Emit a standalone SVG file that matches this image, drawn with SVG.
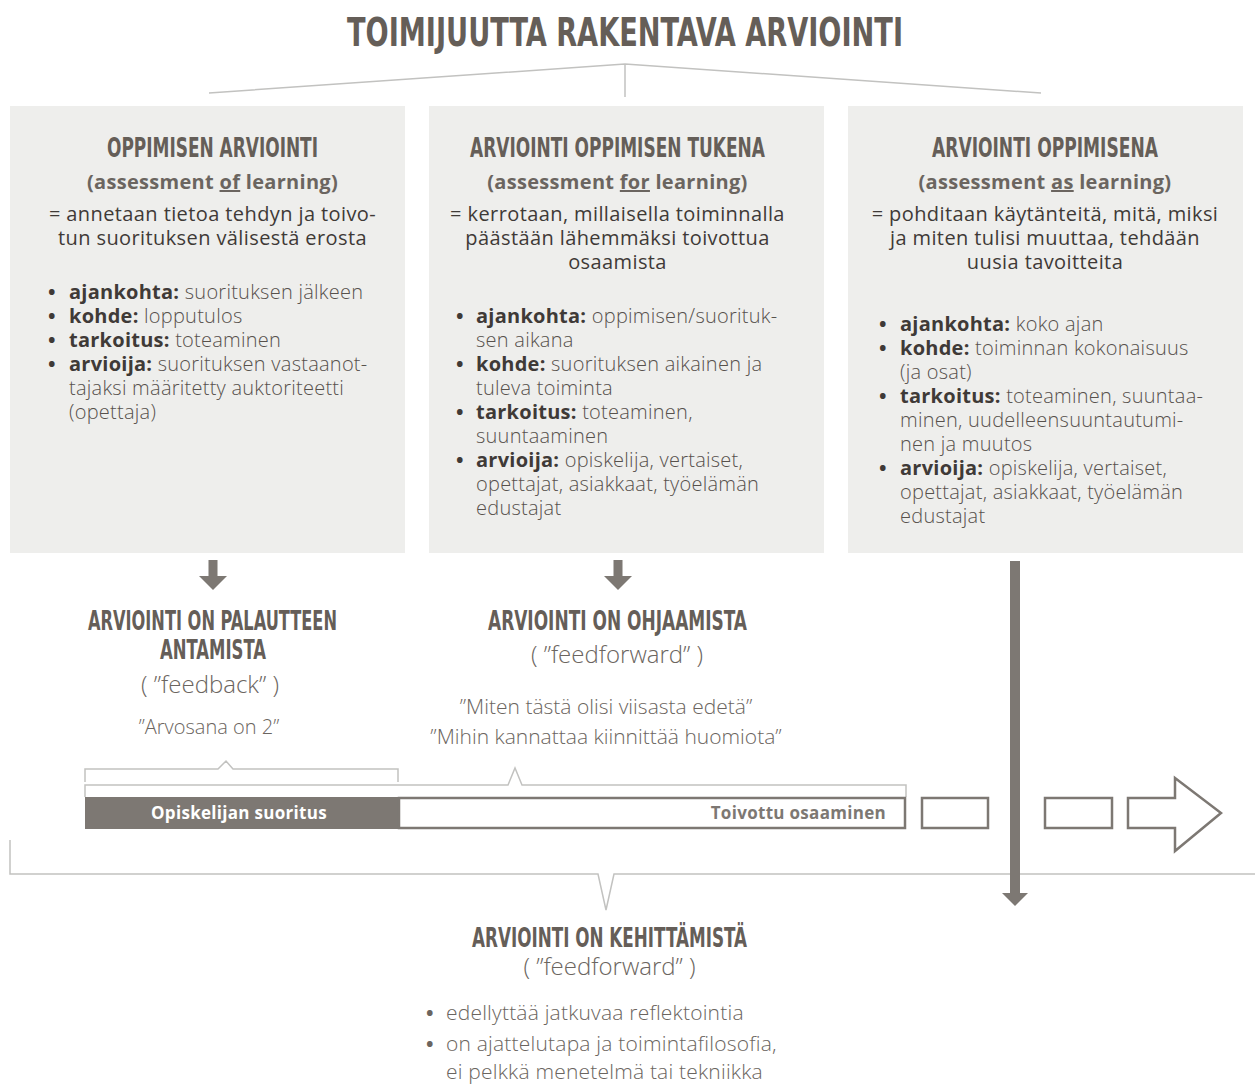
<svg xmlns="http://www.w3.org/2000/svg" width="1255" height="1084" viewBox="0 0 1255 1084">
  <style>
    .head { font-family: "Liberation Sans Narrow", "DejaVu Sans Condensed", "Liberation Sans", sans-serif; font-weight: 700; fill: #655e58; text-anchor: middle; }
    .sub { font-family: "Open Sans", "Noto Sans", sans-serif; font-size: 20px; font-weight: 700; fill: #6b6560; text-anchor: middle; letter-spacing: 0.3px; }
    .def { font-family: "Open Sans", "Noto Sans", sans-serif; font-size: 20px; fill: #3f3a37; text-anchor: middle; letter-spacing: 0.4px; }
    .li { font-family: "Open Sans", "Noto Sans", sans-serif; font-size: 20px; font-weight: 300; fill: #57514c; letter-spacing: 0.25px; }
    .li .k { font-weight: 700; fill: #3f3a37; }
    .dot { font-family: "Open Sans", "Noto Sans", sans-serif; font-size: 20px; font-weight: 700; fill: #3f3a37; }
    .note { font-family: "Open Sans", "Noto Sans", sans-serif; font-weight: 300; fill: #6b6560; text-anchor: middle; }
    .note.start { text-anchor: start; letter-spacing: 0.2px; }
    .note.bullet { font-weight: 700; }
    .box { fill: #eeeeec; }
    .thin { fill: none; stroke: #c2c2c0; stroke-width: 1.5; }
    .solid { fill: #7d7873; }
    .frame { fill: #ffffff; stroke: #7d7873; stroke-width: 2.5; }
    .bar { font-family: "Open Sans", "Noto Sans", sans-serif; font-size: 17px; font-weight: 700; letter-spacing: 0.3px; }
  </style>

  <!-- title -->
  <g id="title">
    <text class="head" x="625" y="46" font-size="39" textLength="556" lengthAdjust="spacingAndGlyphs">TOIMIJUUTTA RAKENTAVA ARVIOINTI</text>
  </g>

  <!-- connectors -->
  <g id="connectors">
    <!-- tree under the title -->
    <polyline class="thin" points="209,93 625,64 1041,93"/>
    <line class="thin" x1="625" y1="64" x2="625" y2="97"/>

    <!-- down arrows under the first two boxes -->
    <rect class="solid" x="208.5" y="560" width="9" height="17"/>
    <polygon class="solid" points="199,576 227,576 213,590"/>
    <rect class="solid" x="613.5" y="560" width="9" height="17"/>
    <polygon class="solid" points="604,576 632,576 618,590"/>

    <!-- braces over the bar -->
    <polyline class="thin" points="85,782 85,769 218,769 226,761 233,769 398,769 398,782"/>
    <polyline class="thin" points="85,797 85,785 508,785 515,768 522,785 906,785 906,797"/>

    <!-- long brace under everything -->
    <polyline class="thin" stroke-width="2" points="10,840 10,874 598,874 606,910 614,874 1255,874"/>

    <!-- long arrow from the third box -->
    <rect class="solid" x="1010" y="561" width="10" height="334"/>
    <polygon class="solid" points="1002,893 1028,893 1015,906"/>
  </g>

  <!-- box 1 -->
  <g id="node-of">
    <rect class="box" x="10" y="106" width="395" height="447"/>
    <text class="head" x="212.5" y="157" font-size="27" textLength="211" lengthAdjust="spacingAndGlyphs">OPPIMISEN ARVIOINTI</text>
    <text class="sub" x="212.5" y="189">(assessment <tspan text-decoration="underline">of</tspan> learning)</text>
    <text class="def" x="212.5" y="221">= annetaan tietoa tehdyn ja toivo-</text>
    <text class="def" x="212.5" y="245">tun suorituksen välisestä erosta</text>
    <text class="dot" x="48" y="299">•</text>
    <text class="li" x="69" y="299"><tspan class="k">ajankohta:</tspan> suorituksen jälkeen</text>
    <text class="dot" x="48" y="323">•</text>
    <text class="li" x="69" y="323"><tspan class="k">kohde:</tspan> lopputulos</text>
    <text class="dot" x="48" y="347">•</text>
    <text class="li" x="69" y="347"><tspan class="k">tarkoitus:</tspan> toteaminen</text>
    <text class="dot" x="48" y="371">•</text>
    <text class="li" x="69" y="371"><tspan class="k">arvioija:</tspan> suorituksen vastaanot-</text>
    <text class="li" x="69" y="395">tajaksi määritetty auktoriteetti</text>
    <text class="li" x="69" y="419">(opettaja)</text>
  </g>

  <!-- box 2 -->
  <g id="node-for">
    <rect class="box" x="429" y="106" width="395" height="447"/>
    <text class="head" x="617.5" y="157" font-size="27" textLength="295" lengthAdjust="spacingAndGlyphs">ARVIOINTI OPPIMISEN TUKENA</text>
    <text class="sub" x="617.5" y="189">(assessment <tspan text-decoration="underline">for</tspan> learning)</text>
    <text class="def" x="617.5" y="221">= kerrotaan, millaisella toiminnalla</text>
    <text class="def" x="617.5" y="245">päästään lähemmäksi toivottua</text>
    <text class="def" x="617.5" y="269">osaamista</text>
    <text class="dot" x="456" y="323">•</text>
    <text class="li" x="476" y="323"><tspan class="k">ajankohta:</tspan> oppimisen/suorituk-</text>
    <text class="li" x="476" y="347">sen aikana</text>
    <text class="dot" x="456" y="371">•</text>
    <text class="li" x="476" y="371"><tspan class="k">kohde:</tspan> suorituksen aikainen ja</text>
    <text class="li" x="476" y="395">tuleva toiminta</text>
    <text class="dot" x="456" y="419">•</text>
    <text class="li" x="476" y="419"><tspan class="k">tarkoitus:</tspan> toteaminen,</text>
    <text class="li" x="476" y="443">suuntaaminen</text>
    <text class="dot" x="456" y="467">•</text>
    <text class="li" x="476" y="467"><tspan class="k">arvioija:</tspan> opiskelija, vertaiset,</text>
    <text class="li" x="476" y="491">opettajat, asiakkaat, työelämän</text>
    <text class="li" x="476" y="515">edustajat</text>
  </g>

  <!-- box 3 -->
  <g id="node-as">
    <rect class="box" x="848" y="106" width="395" height="447"/>
    <text class="head" x="1045" y="157" font-size="27" textLength="226" lengthAdjust="spacingAndGlyphs">ARVIOINTI OPPIMISENA</text>
    <text class="sub" x="1045" y="189">(assessment <tspan text-decoration="underline">as</tspan> learning)</text>
    <text class="def" x="1045" y="221">= pohditaan käytänteitä, mitä, miksi</text>
    <text class="def" x="1045" y="245">ja miten tulisi muuttaa, tehdään</text>
    <text class="def" x="1045" y="269">uusia tavoitteita</text>
    <text class="dot" x="879" y="331">•</text>
    <text class="li" x="900" y="331"><tspan class="k">ajankohta:</tspan> koko ajan</text>
    <text class="dot" x="879" y="355">•</text>
    <text class="li" x="900" y="355"><tspan class="k">kohde:</tspan> toiminnan kokonaisuus</text>
    <text class="li" x="900" y="379">(ja osat)</text>
    <text class="dot" x="879" y="403">•</text>
    <text class="li" x="900" y="403"><tspan class="k">tarkoitus:</tspan> toteaminen, suuntaa-</text>
    <text class="li" x="900" y="427">minen, uudelleensuuntautumi-</text>
    <text class="li" x="900" y="451">nen ja muutos</text>
    <text class="dot" x="879" y="475">•</text>
    <text class="li" x="900" y="475"><tspan class="k">arvioija:</tspan> opiskelija, vertaiset,</text>
    <text class="li" x="900" y="499">opettajat, asiakkaat, työelämän</text>
    <text class="li" x="900" y="523">edustajat</text>
  </g>

  <!-- feedback -->
  <g id="node-feedback">
    <text class="head" x="212.5" y="630" font-size="27" textLength="249" lengthAdjust="spacingAndGlyphs">ARVIOINTI ON PALAUTTEEN</text>
    <text class="head" x="213" y="659" font-size="27" textLength="106" lengthAdjust="spacingAndGlyphs">ANTAMISTA</text>
    <text class="note" x="210" y="693" font-size="24">( ”feedback” )</text>
    <text class="note" x="209" y="734" font-size="20">”Arvosana on 2”</text>
  </g>

  <!-- guidance -->
  <g id="node-guidance">
    <text class="head" x="617.5" y="630" font-size="27" textLength="259" lengthAdjust="spacingAndGlyphs">ARVIOINTI ON OHJAAMISTA</text>
    <text class="note" x="617" y="663" font-size="24">( ”feedforward” )</text>
    <text class="note" x="606" y="714" font-size="21">”Miten tästä olisi viisasta edetä”</text>
    <text class="note" x="606" y="744" font-size="21">”Mihin kannattaa kiinnittää huomiota”</text>
  </g>

  <!-- timeline bar -->
  <g id="node-bar">
    <rect class="solid" x="85" y="797" width="313" height="32"/>
    <text class="bar" x="239" y="819" fill="#ffffff" text-anchor="middle">Opiskelijan suoritus</text>
    <rect class="frame" x="399" y="798" width="506" height="30"/>
    <text class="bar" x="886" y="819" fill="#7d7873" text-anchor="end">Toivottu osaaminen</text>
    <rect class="frame" x="922" y="798" width="66" height="30"/>
    <rect class="frame" x="1045" y="798" width="67" height="30"/>
    <polygon class="frame" stroke-width="2" points="1128,798 1175,798 1175,778 1221,813 1175,851 1175,828 1128,828"/>
  </g>

  <!-- development -->
  <g id="node-development">
    <text class="head" x="609.5" y="947" font-size="27" textLength="275" lengthAdjust="spacingAndGlyphs">ARVIOINTI ON KEHITTÄMISTÄ</text>
    <text class="note" x="609.5" y="975" font-size="24">( ”feedforward” )</text>
    <text class="note start bullet" x="426" y="1020" font-size="20">•</text>
    <text class="note start" x="446" y="1020" font-size="21">edellyttää jatkuvaa reflektointia</text>
    <text class="note start bullet" x="426" y="1051" font-size="20">•</text>
    <text class="note start" x="446" y="1051" font-size="21">on ajattelutapa ja toimintafilosofia,</text>
    <text class="note start" x="446" y="1079" font-size="21">ei pelkkä menetelmä tai tekniikka</text>
  </g>
</svg>
